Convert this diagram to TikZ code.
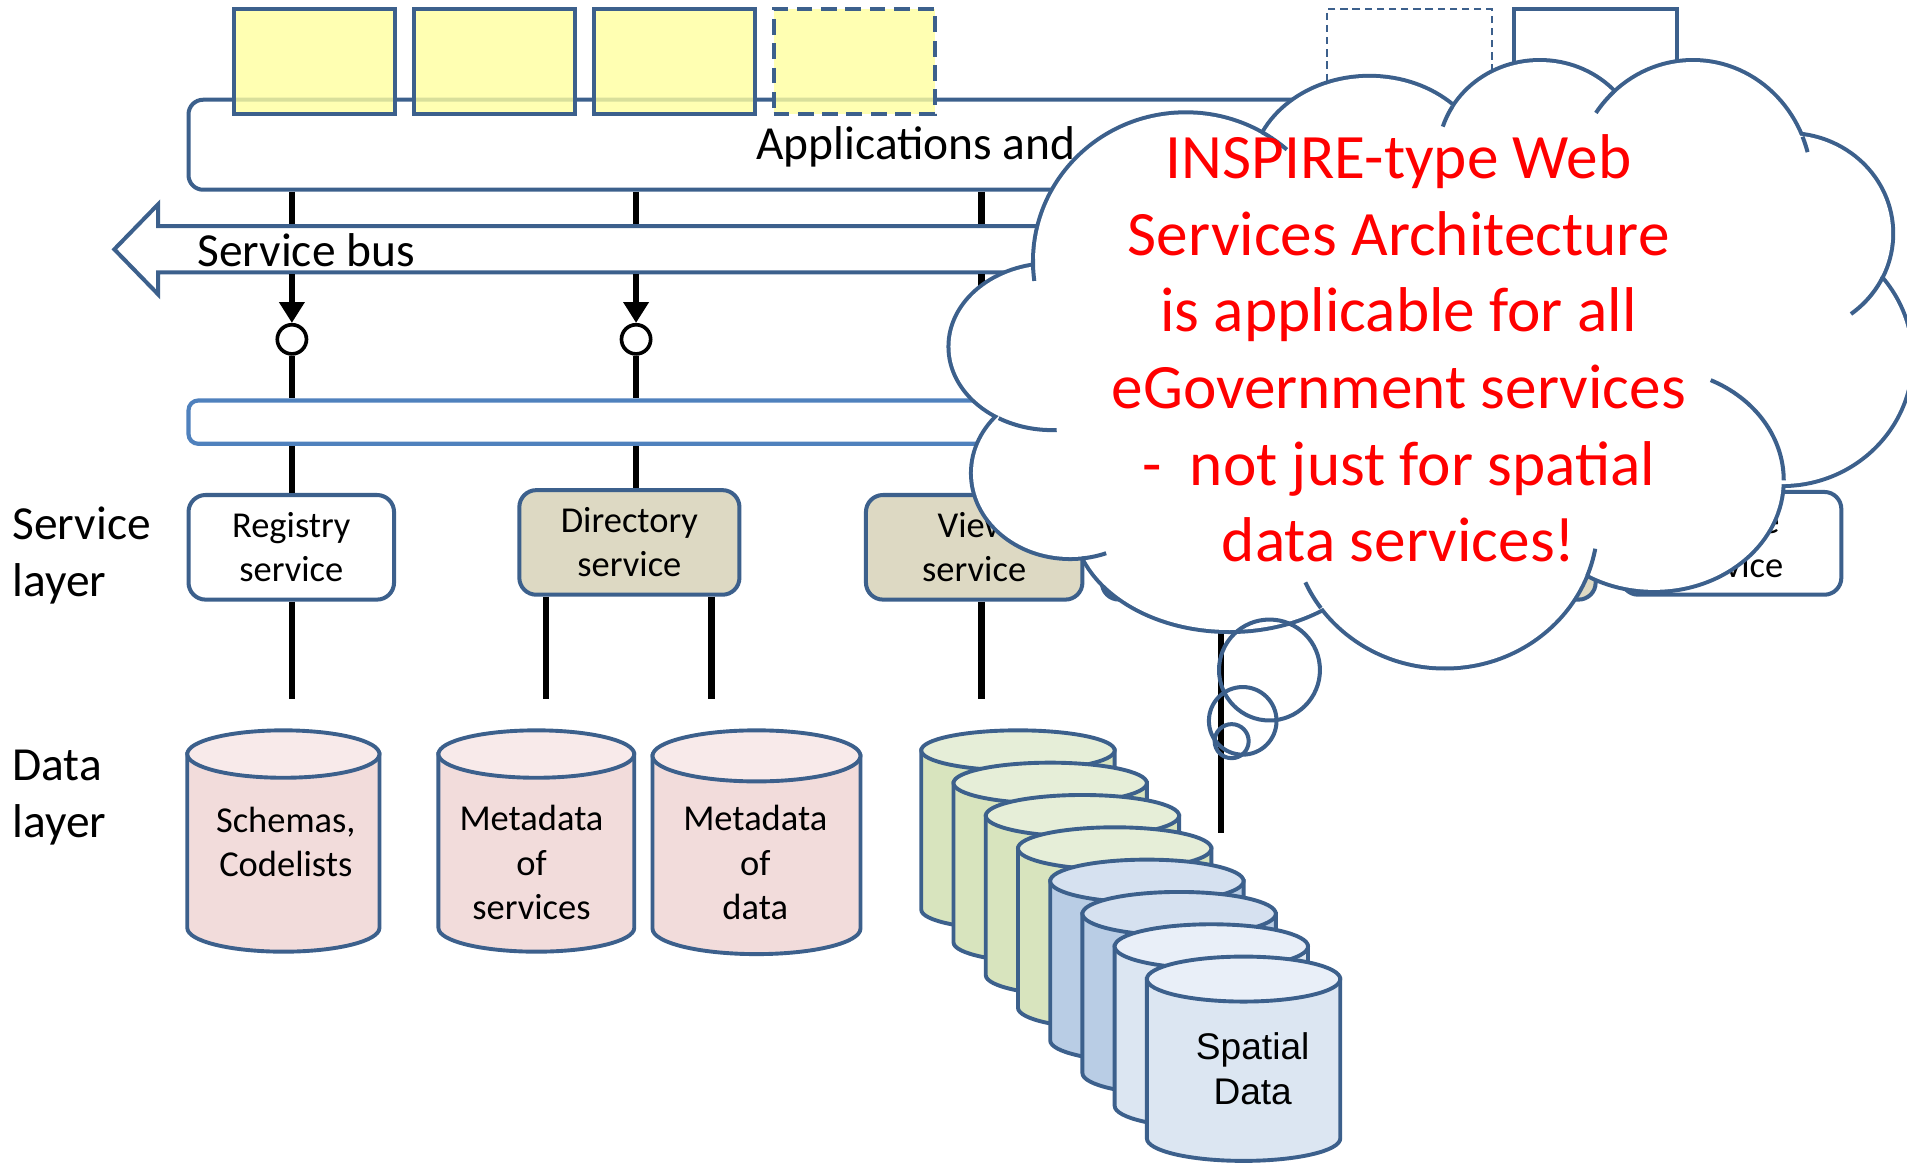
\documentclass[tikz,border=0pt]{standalone}
\usepackage{fontspec}
\setmainfont{Carlito}
\newfontfamily\arialf{Liberation Sans}
\usetikzlibrary{arrows.meta}
\definecolor{bdr}{HTML}{3C608C}
\definecolor{ibarc}{HTML}{4F81BD}
\definecolor{yel}{HTML}{FFFF9F}
\definecolor{tanc}{HTML}{DDD9C3}
\definecolor{pinkb}{HTML}{F2DCDB}
\definecolor{pinkt}{HTML}{F8EAEA}
\definecolor{grnb}{HTML}{D8E4BE}
\definecolor{grnt}{HTML}{E6EED8}
\definecolor{blub}{HTML}{B9CDE5}
\definecolor{blut}{HTML}{D6E1F0}
\definecolor{ltb}{HTML}{DCE6F2}
\definecolor{ltt}{HTML}{E9EFF8}
\newcommand\fsz[2]{\fontsize{#1}{#2}\selectfont}
% cylinder: cx, cy(top centre), rx, ry, height, body colour, top colour
\newcommand\cyl[7]{%
  \filldraw[cylln,fill=#6] (#1-#3,#2) -- (#1-#3,#2+#5) arc[start angle=180,end angle=360,x radius=#3pt,y radius=#4pt] -- (#1+#3,#2) -- cycle;
  \filldraw[cylln,fill=#7] (#1,#2) ellipse[x radius=#3pt,y radius=#4pt];}
% inner stub arc of the cloud: cx, cy, rx, ry, a1, a2
\newcommand\stub[6]{\draw[cloudln] (#1,#2) ++(#5:#3pt and #4pt) arc[start angle=#5,end angle=#6,x radius=#3pt,y radius=#4pt];}
\begin{document}
\begin{tikzpicture}[x=1pt,y=-1pt,
  bl/.style={draw=bdr,line width=3.3pt},
  conn/.style={line width=5.5pt,black},
  cylln/.style={draw=bdr,line width=3.2pt},
  cloudln/.style={draw=bdr,line width=3.3pt},
  appbar/.style={bl,rounded corners=12pt,fill=white,inner sep=0pt},
  ybox/.style={bl,fill=yel,fill opacity=0.8,minimum width=133pt,minimum height=86pt,inner sep=0pt},
  svc/.style={bl,rounded corners=14pt,align=center,inner sep=0pt,font=\fsz{30}{36.3}},
  iface/.style={draw=black,line width=3pt,circle,fill=white,minimum size=24pt,inner sep=0pt},
  lbl/.style={inner sep=0pt,font=\fsz{39}{47}},
  cyltxt/.style={inner sep=0pt,align=center,font=\fsz{30}{36.5}},
  tip/.style={-{Triangle[length=17pt,width=20pt]}}]
\useasboundingbox (0,0) rectangle (1568,956.3);
\fill[white] (0,0) rectangle (1568,956.3);

% named columns / levels
\coordinate (c1) at (240,0);
\coordinate (c2) at (523,0);
\coordinate (c3) at (807,0);
\coordinate (c4) at (449,0);
\coordinate (c5) at (585,0);
\coordinate (c6) at (1004,0);
\coordinate (bt) at (0,184.5);
\coordinate (bb) at (0,225.5);
\coordinate (lo) at (0,575);
\coordinate (lo2) at (0,685);

% applications bar and application boxes
\node[appbar,minimum width=965pt,minimum height=74pt] (apps) at (637.5,119) {};
\node[anchor=base west,inner sep=0pt,font=\fsz{39}{47}] (appslbl) at (621.8,131.5) {Applications and};
\node[ybox] (a1) at (258.5,50.5) {};
\node[ybox] (a2) at (406.5,50.5) {};
\node[ybox] (a3) at (554.5,50.5) {};
\node[ybox,dash pattern=on 13pt off 7pt] (a4) at (702.5,50.5) {};
\node[draw=bdr,line width=1.6pt,dash pattern=on 6pt off 4pt,minimum width=135.5pt,minimum height=86pt,inner sep=0pt] (a5) at (1158.75,50.5) {};
\node[bl,fill=white,minimum width=134pt,minimum height=86pt,inner sep=0pt] (a6) at (1311.5,50.5) {};

% connectors applications -> service bus
\draw[conn] (apps.south -| c1) -- (c1 |- bt);
\draw[conn] (apps.south -| c2) -- (c2 |- bt);
\draw[conn] (apps.south -| c3) -- (c3 |- bt);

% service bus
\draw[bl,fill=white] (94,205) -- (130,168) -- (130,186) -- (1000,186) -- (1000,224) -- (130,224) -- (130,242) -- cycle;
\node[anchor=base west,inner sep=0pt,font=\fsz{39}{47}] (buslbl) at (162,219.5) {Service bus};

% interfaces
\node[iface] (if1) at (240,279) {};
\node[iface] (if2) at (523,279) {};
\node[iface] (if3) at (807,279) {};
\draw[conn,tip] (c1 |- bb) -- (if1.north);
\draw[conn,tip] (c2 |- bb) -- (if2.north);
\draw[conn,tip] (c3 |- bb) -- (if3.north);

% interface bar
\node[draw=ibarc,line width=3.4pt,rounded corners=8pt,fill=white,minimum width=845pt,minimum height=35.6pt,inner sep=0pt] (ibar) at (577.5,347.1) {};
\draw[conn] (if1.south) -- (c1 |- ibar.north);
\draw[conn] (if2.south) -- (c2 |- ibar.north);
\draw[conn] (if3.south) -- (c3 |- ibar.north);

% service layer
\node[lbl,anchor=west,align=left] (svl) at (10,456.7) {Service\\layer};
\node[svc,fill=white,minimum width=169pt,minimum height=86pt] (reg) at (239.5,450) {Registry\\service};
\node[svc,fill=tanc,minimum width=181pt,minimum height=86pt] (dir) at (517.5,446) {Directory\\service};
\node[svc,fill=tanc,minimum width=178pt,minimum height=86pt] (view) at (801,450) {View\\service};
\node[svc,fill=tanc,minimum width=184pt,minimum height=86pt] (down) at (998,450) {};
\node[svc,fill=tanc,minimum width=183pt,minimum height=86pt] (trans) at (1220.5,450) {};
\node[svc,fill=white,minimum width=181pt,minimum height=84.5pt] (inv) at (1423.5,446.75) {Invoke\\service};
\draw[conn] (c1 |- ibar.south) -- (c1 |- reg.north);
\draw[conn] (c2 |- ibar.south) -- (c2 |- dir.north);
\draw[conn] (c3 |- ibar.south) -- (c3 |- view.north);
\draw[conn] (c1 |- reg.south) -- (c1 |- lo);
\draw[conn] (c4 |- dir.south) -- (c4 |- lo);
\draw[conn] (c5 |- dir.south) -- (c5 |- lo);
\draw[conn] (c3 |- view.south) -- (c3 |- lo);
\draw[conn] (c6 |- down.south) -- (c6 |- lo2);

% data layer
\node[lbl,anchor=west,align=left] (dal) at (10,656) {Data\\layer};
\cyl{233}{620}{79}{19.5}{143}{pinkb}{pinkt}
\cyl{441}{620}{80.5}{19.5}{143}{pinkb}{pinkt}
\cyl{622}{621.5}{85.5}{21}{142}{pinkb}{pinkt}
\node[cyltxt] (schemas) at (235,692.4) {Schemas,\\Codelists};
\node[cyltxt] (mds) at (437,709.2) {Metadata\\of\\services};
\node[cyltxt] (mdd) at (621,709.2) {Metadata\\of\\data};

\foreach \i/\cb/\ct in {0/grnb/grnt,1/grnb/grnt,2/grnb/grnt,3/grnb/grnt,4/blub/blut,5/blub/blut,6/ltb/ltt,7/ltb/ltt}{
  \pgfmathsetmacro\cx{837+26.5*\i}
  \pgfmathsetmacro\cy{617+26.86*\i}
  \pgfmathsetmacro\ry{16.5+0.285*\i}
  \cyl{\cx}{\cy}{79.5}{\ry}{131}{\cb}{\ct}
}
\node[inner sep=0pt,align=center,font=\arialf\fsz{30.5}{37}] (spatial) at (1030,879) {Spatial\\Data};

% cloud callout
\foreach \x/\y/\a/\b in {975/215/124/121,1126/144/96/80,1266/128/82/77,1392/152/96/101,1470/192/85/81,1465/295/106/103,1360/395/105/90,1188/430/124/118,1011/428/127/90,880/389/80/69,865/285/83.5/67}
  \draw[bdr,line width=6.6pt] (\x,\y) ellipse[x radius=\a pt,y radius=\b pt];
\foreach \x/\y/\a/\b in {975/215/124/121,1126/144/96/80,1266/128/82/77,1392/152/96/101,1470/192/85/81,1465/295/106/103,1360/395/105/90,1188/430/124/118,1011/428/127/90,880/389/80/69,865/285/83.5/67}
  \fill[white] (\x,\y) ellipse[x radius=\a pt,y radius=\b pt];
\fill[white] (975,215) -- (1126,144) -- (1266,128) -- (1392,152) -- (1470,192) -- (1465,295) -- (1360,395) -- (1188,430) -- (1011,428) -- (880,389) -- (865,285) -- cycle;
\stub{975}{215}{125.65}{122.65}{179}{187.5}
\stub{975}{215}{125.65}{122.65}{60}{48.6}
\stub{1266}{128}{83.65}{78.65}{149}{162.3}
\stub{1392}{152}{97.65}{102.65}{131.8}{144.8}
\stub{1392}{152}{97.65}{102.65}{22.7}{15.2}
\stub{1470}{192}{86.65}{82.65}{-25.8}{-53.2}
\stub{1360}{395}{106.65}{91.65}{0}{64.1}
\stub{1188}{430}{125.65}{119.65}{-21.2}{-10.2}
\stub{1188}{430}{125.65}{119.65}{-144.2}{-155.9}
\stub{880}{389}{81.65}{70.65}{-83}{-68.8}
\stub{865}{285}{85.15}{68.65}{-121}{-87.4}
\draw[cloudln] (1043.8,550.9) circle[radius=41.5pt];
\draw[cloudln] (1021.8,592.7) circle[radius=27.8pt];
\draw[cloudln] (1012.7,609.4) circle[radius=14pt];
\node[anchor=base,inner sep=0pt,align=center,text=red,font=\fsz{52}{63}] (msg) at (1150,461.8) {INSPIRE-type Web\\Services Architecture\\is applicable for all\\eGovernment services\\-\ \ not just for spatial\\data services!};
\end{tikzpicture}
\end{document}
